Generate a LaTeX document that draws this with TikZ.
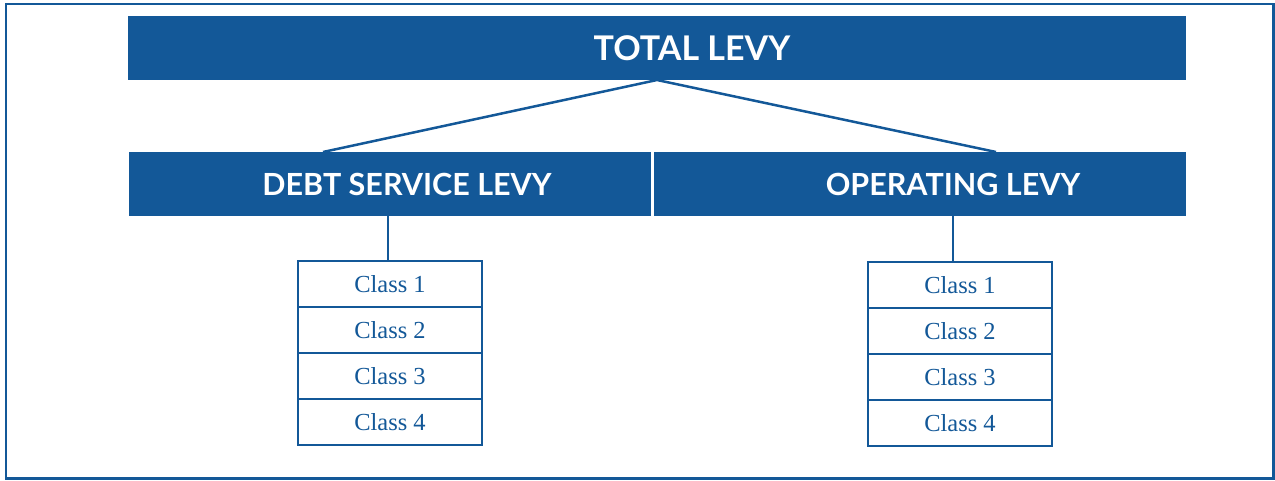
\documentclass[tikz,border=0pt]{standalone}
\usepackage{fontspec}
\setmainfont{Liberation Serif}
\setsansfont{Lato}
\usetikzlibrary{positioning}
\usetikzlibrary{calc}
\definecolor{levyblue}{RGB}{19,88,152}
\tikzset{bar/.style = {fill = levyblue, text = white, inner sep = 0, outer sep = 0,
                       minimum height = 64, font = \sffamily\bfseries\fontsize{30.5}{30}\selectfont}}
\tikzset{classbox/.style = {draw = levyblue, line width = 2.2, text = levyblue, inner sep = 0,
                            minimum width = 184, minimum height = 46,
                            font = \fontsize{24.5}{24}\selectfont}}
\tikzset{link/.style = {draw = levyblue, line width = 2.5}}

\begin{document}
\begin{tikzpicture}[x = 1pt, y = -1pt]
      \useasboundingbox (0, 0) rectangle (1275, 480);
      \draw [levyblue, line width = 2.5] (6, 4) rectangle (1273.5, 478.5);
      \node [bar, minimum width = 1058, font = \sffamily\bfseries\fontsize{34}{34}\selectfont] (total) at (657, 48) {\hspace*{70pt}TOTAL LEVY};
      \node [bar, minimum width = 522] (debt) at (390, 184) {\hspace*{34pt}DEBT SERVICE LEVY};
      \node [bar, minimum width = 532] (oper) at (920, 184) {\hspace*{66pt}OPERATING LEVY};
      \draw [link] ($(debt.north) + (-67, 0)$) -- (total.south) -- ($(oper.north) + (76, 0)$);
      \foreach \i in {1, ..., 4} {
        \node [classbox] (d\i) at (390, 238 + 46 * \i) {Class \i};
        \node [classbox] (o\i) at (960, 239 + 46 * \i) {Class \i};
      }
      \draw [link] (debt.south -| 388, 0) -- (d1.north -| 388, 0);
      \draw [link] (oper.south -| 953, 0) -- (o1.north -| 953, 0);
    \end{tikzpicture}
\end{document}
